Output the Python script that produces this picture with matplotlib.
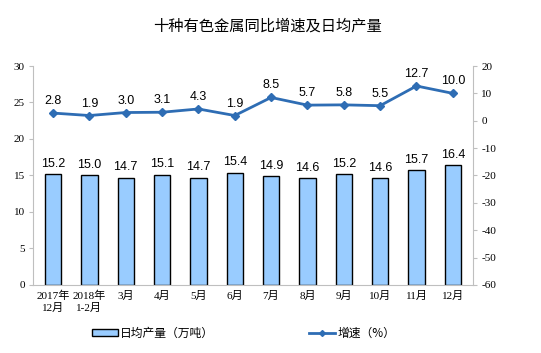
import numpy as np
import matplotlib.pyplot as plt
from matplotlib.patches import Patch
from matplotlib.lines import Line2D

# data
months = ['2017年\n12月', '2018年\n1-2月', '3月', '4月', '5月', '6月',
          '7月', '8月', '9月', '10月', '11月', '12月']
daily_output = [15.2, 15.0, 14.7, 15.1, 14.7, 15.4, 14.9, 14.6, 15.2, 14.6, 15.7, 16.4]
growth = [2.8, 1.9, 3.0, 3.1, 4.3, 1.9, 8.5, 5.7, 5.8, 5.5, 12.7, 10.0]

plt.rcParams['axes.unicode_minus'] = False

serif = ['Liberation Serif', 'Noto Sans CJK SC']
sans = ['Liberation Sans', 'Noto Sans CJK SC']
cjk = ['Noto Sans CJK SC', 'DejaVu Sans']

bar_color = '#99CCFF'
line_color = '#2E6DB4'
axis_gray = '#BFBFBF'

fig = plt.figure(figsize=(5.41, 3.53), dpi=100)
ax = fig.add_axes([0.061, 0.193, 0.813, 0.62])
ax2 = ax.twinx()

x = np.arange(len(months))
ax.bar(x, daily_output, width=0.45, color=bar_color, edgecolor='black', linewidth=1.0, zorder=2)
for xi, v in zip(x, daily_output):
    ax.text(xi, v + 0.6, f'{v:.1f}', ha='center', va='bottom', fontsize=9, family=sans)

ax2.plot(x, growth, color=line_color, linewidth=2, marker='D', markersize=4.5, zorder=3)
for xi, v in zip(x, growth):
    ax2.text(xi, v + 2.2, f'{v:.1f}', ha='center', va='bottom', fontsize=9, family=sans)

ax.set_xlim(-0.55, len(months) - 0.45)
ax.set_ylim(0, 30)
ax.set_yticks(range(0, 31, 5))
ax2.set_ylim(-60, 20)
ax2.set_yticks(range(-60, 21, 10))

ax.set_xticks(x)
ax.set_xticklabels(months, family=serif, fontsize=8, linespacing=1.2)
for lbl in ax.get_yticklabels():
    lbl.set_family(serif)
    lbl.set_fontsize(8)
for lbl in ax2.get_yticklabels():
    lbl.set_family(serif)
    lbl.set_fontsize(8)

for a in (ax, ax2):
    a.spines['top'].set_visible(False)
    for s in ('left', 'right', 'bottom'):
        a.spines[s].set_color(axis_gray)
    a.tick_params(colors='black', length=3, width=0.8, pad=3)
    a.tick_params(axis='y', color=axis_gray)
ax.tick_params(axis='x', length=0, pad=4)
ax.spines['right'].set_visible(False)
ax2.spines['left'].set_visible(False)
ax2.spines['bottom'].set_visible(False)

fig.text(0.495, 0.925, '十种有色金属同比增速及日均产量', ha='center', va='center',
         fontsize=11, family=cjk)

handles = [Patch(facecolor=bar_color, edgecolor='black', linewidth=1.0),
           Line2D([0], [0], color=line_color, linewidth=2, marker='D', markersize=3)]
leg = fig.legend(handles, ['日均产量（万吨）', '增速（%）'], loc='center',
                 bbox_to_anchor=(0.45, 0.057), ncol=2, frameon=False,
                 prop={'family': cjk, 'size': 8.5}, columnspacing=8, handlelength=2.2,
                 handleheight=0.5, handletextpad=0.2)

fig.savefig('out.png', dpi=100)
